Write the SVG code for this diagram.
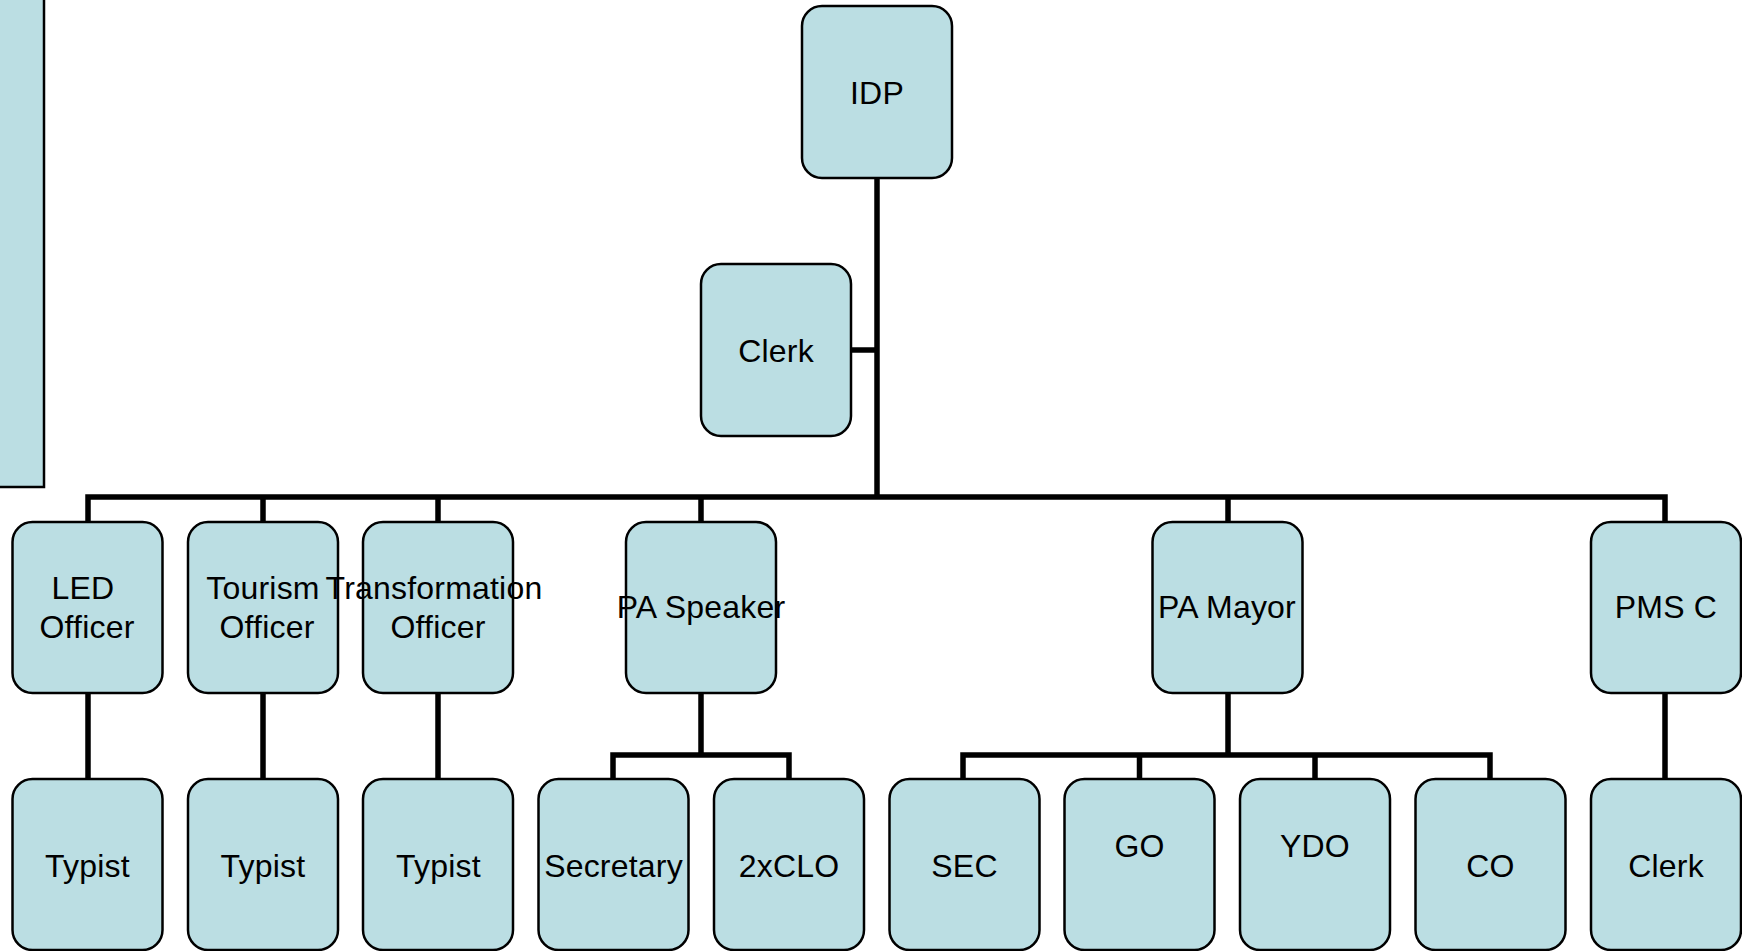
<svg xmlns="http://www.w3.org/2000/svg" width="1742" height="951" viewBox="0 0 1742 951">
<style>
.box{fill:#BBDEE3;stroke:#000;stroke-width:2.5}
.lbl{font-family:"Liberation Sans",Arial,sans-serif;font-size:32px;fill:#000;text-anchor:middle;letter-spacing:0.2px}
.con{fill:none;stroke:#000;stroke-width:5.5;stroke-linejoin:miter;stroke-linecap:butt}
</style>
<rect width="1742" height="951" fill="#fff"/>
<g id="side-panel"><rect class="box" x="-10" y="-10" width="54" height="497"/></g>
<g id="connectors">
<path class="con" d="M877,178 V497"/>
<path class="con" d="M851,350 H877"/>
<path class="con" d="M88,522 V497 H1665 V522"/>
<path class="con" d="M263,497 V522 M438,497 V522 M701,497 V522 M1228,497 V522"/>
<path class="con" d="M88,693 V779 M263,693 V779 M438,693 V779 M1665,693 V779"/>
<path class="con" d="M701,693 V755 M613,779 V755 H789 V779"/>
<path class="con" d="M1228,693 V755 M963,779 V755 H1490 V779 M1139.5,755 V779 M1315,755 V779"/>
</g>
<g id="n-idp"><rect class="box" x="802" y="6" width="150" height="172" rx="20"/><text class="lbl" x="877" y="104">IDP</text></g>
<g id="n-clerk-top"><rect class="box" x="701" y="264" width="150" height="172" rx="20"/><text class="lbl" x="776" y="362">Clerk</text></g>
<g id="n-led"><rect class="box" x="12.5" y="522" width="150" height="171" rx="20"/><text class="lbl" x="83" y="599">LED</text><text class="lbl" x="87" y="638">Officer</text></g>
<g id="n-tourism"><rect class="box" x="188" y="522" width="150" height="171" rx="20"/><text class="lbl" x="263" y="599">Tourism</text><text class="lbl" x="267" y="638">Officer</text></g>
<g id="n-transformation"><rect class="box" x="363" y="522" width="150" height="171" rx="20"/><text class="lbl" x="434" y="599">Transformation</text><text class="lbl" x="438" y="638">Officer</text></g>
<g id="n-pa-speaker"><rect class="box" x="626" y="522" width="150" height="171" rx="20"/><text class="lbl" x="701" y="618">PA Speaker</text></g>
<g id="n-pa-mayor"><rect class="box" x="1152.5" y="522" width="150" height="171" rx="20"/><text class="lbl" x="1227" y="618">PA Mayor</text></g>
<g id="n-pms-c"><rect class="box" x="1591" y="522" width="150" height="171" rx="20"/><text class="lbl" x="1666" y="618">PMS C</text></g>
<g id="n-typist-1"><rect class="box" x="12.5" y="779" width="150" height="171" rx="20"/><text class="lbl" x="87.5" y="877">Typist</text></g>
<g id="n-typist-2"><rect class="box" x="188" y="779" width="150" height="171" rx="20"/><text class="lbl" x="263" y="877">Typist</text></g>
<g id="n-typist-3"><rect class="box" x="363" y="779" width="150" height="171" rx="20"/><text class="lbl" x="438.5" y="877">Typist</text></g>
<g id="n-secretary"><rect class="box" x="538.5" y="779" width="150" height="171" rx="20"/><text class="lbl" x="613.5" y="877">Secretary</text></g>
<g id="n-2xclo"><rect class="box" x="714" y="779" width="150" height="171" rx="20"/><text class="lbl" x="789" y="877">2xCLO</text></g>
<g id="n-sec"><rect class="box" x="889.5" y="779" width="150" height="171" rx="20"/><text class="lbl" x="964.5" y="877">SEC</text></g>
<g id="n-go"><rect class="box" x="1064.5" y="779" width="150" height="171" rx="20"/><text class="lbl" x="1139.5" y="857">GO</text></g>
<g id="n-ydo"><rect class="box" x="1240" y="779" width="150" height="171" rx="20"/><text class="lbl" x="1315" y="857">YDO</text></g>
<g id="n-co"><rect class="box" x="1415.5" y="779" width="150" height="171" rx="20"/><text class="lbl" x="1490.5" y="877">CO</text></g>
<g id="n-clerk-pms"><rect class="box" x="1591" y="779" width="150" height="171" rx="20"/><text class="lbl" x="1666" y="877">Clerk</text></g>
</svg>
